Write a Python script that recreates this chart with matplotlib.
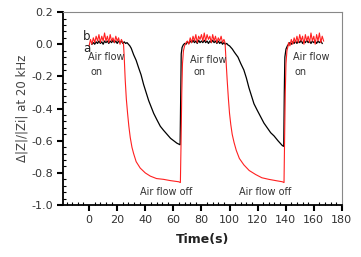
import numpy as np
import matplotlib
matplotlib.use('Agg')
import matplotlib.pyplot as plt
from matplotlib.ticker import MultipleLocator

# curve a (black)
t_a = [2, 3, 4, 5, 6, 7, 8, 9, 10, 11, 12, 13, 14, 15, 16, 17, 18, 19, 20, 21, 22, 23, 24, 25, 26, 27, 28, 29, 30,
       31.7, 33.5, 35.2, 37, 38.8, 40.6, 42.4, 44.2, 46, 48.3, 50.7, 53, 55.5, 58, 60.2, 62.5, 64.8,
       65.3, 65.6, 66.2, 67, 68,
       69, 70, 71, 72, 73, 74, 75, 76, 77, 78, 79, 80, 81, 82, 83, 84, 85, 86, 87, 88, 89, 90, 91, 92, 93, 94,
       95, 96, 97, 98, 99, 100, 101, 102, 103.5, 106,
       108, 110.2, 112, 113.8, 115.6, 117.4, 119.7, 122.1, 124.5, 126.9, 129.3, 131.7, 134.5, 137.6, 138.6,
       139.0, 139.4, 140.2, 141.2, 142,
       143, 144, 145, 146, 147, 148, 149, 150, 151, 152, 153, 154, 155, 156, 157, 158, 159, 160, 161, 162,
       163, 164, 165, 166]
v_a = [0.0, 0.01, 0.0, 0.015, 0.005, 0.02, 0.005, 0.015, 0.0, 0.02, 0.01, 0.02, 0.005, 0.02, 0.01, 0.025, 0.01,
       0.02, 0.005, 0.02, 0.01, 0.02, 0.005, 0.015, 0.005, 0.01, 0.0, -0.01, -0.025,
       -0.065, -0.10, -0.145, -0.19, -0.25, -0.30, -0.35, -0.39, -0.43, -0.47, -0.51, -0.535, -0.56, -0.585,
       -0.60, -0.615, -0.625,
       -0.3, -0.06, -0.02, -0.005, 0.005,
       0.0, 0.015, 0.005, 0.02, 0.01, 0.025, 0.01, 0.02, 0.005, 0.025, 0.01, 0.02, 0.01, 0.025, 0.01, 0.02,
       0.005, 0.02, 0.01, 0.025, 0.01, 0.02, 0.005, 0.02, 0.005, 0.015,
       0.0, 0.01, 0.0, 0.005, -0.005, -0.01, -0.02, -0.03, -0.05, -0.08,
       -0.12, -0.16, -0.21, -0.27, -0.32, -0.37, -0.41, -0.45, -0.49, -0.52, -0.55, -0.57, -0.60, -0.63, -0.635,
       -0.3, -0.08, -0.03, -0.01, 0.0,
       0.01, 0.0, 0.015, 0.005, 0.02, 0.005, 0.02, 0.01, 0.025, 0.005, 0.02, 0.01, 0.025, 0.01, 0.02, 0.005,
       0.02, 0.01, 0.02, 0.005, 0.02, 0.01, 0.02, 0.005]

# curve b (red)
t_b = [0, 1, 2, 3, 4, 5, 6, 7, 8, 9, 10, 11, 12, 13, 14, 15, 16, 17, 18, 19, 20, 21, 22, 23, 24, 24.5,
       25.0, 25.7, 26.5, 27.4, 28.3, 29.3, 30.5, 31.7, 33.5, 36.4, 40, 43.6, 48, 53, 58, 63.8, 65.0,
       65.5, 66.0, 66.5, 67.2, 68, 69,
       70, 71, 72, 73, 74, 75, 76, 77, 78, 79, 80, 81, 82, 83, 84, 85, 86, 87, 88, 89, 90, 91, 92, 93, 94,
       95, 96, 96.8,
       97.5, 98.3, 99.2, 100, 100.9, 101.9, 103.2, 104.8, 107, 110.2, 114, 118.6, 123, 128, 133, 137.6, 138.8,
       139.2, 139.7, 140.2, 140.9, 141.7,
       142, 143, 144, 145, 146, 147, 148, 149, 150, 151, 152, 153, 154, 155, 156, 157, 158, 159, 160, 161,
       162, 163, 164, 165, 166, 167]
v_b = [-0.01, 0.03, 0.0, 0.04, 0.01, 0.05, 0.02, 0.06, 0.01, 0.05, 0.02, 0.07, 0.02, 0.05, 0.01, 0.06, 0.02,
       0.04, 0.01, 0.05, 0.02, 0.04, 0.0, 0.03, 0.01, 0.0,
       -0.08, -0.22, -0.34, -0.43, -0.51, -0.58, -0.64, -0.68, -0.73, -0.77, -0.80, -0.82, -0.835, -0.84,
       -0.848, -0.855, -0.86,
       -0.6, -0.3, -0.12, -0.04, -0.01, 0.01,
       0.02, 0.0, 0.04, 0.01, 0.05, 0.02, 0.06, 0.01, 0.05, 0.03, 0.06, 0.02, 0.07, 0.02, 0.06, 0.03, 0.05,
       0.01, 0.06, 0.02, 0.05, 0.01, 0.04, 0.02, 0.05, 0.01, 0.03, 0.01,
       -0.1, -0.22, -0.34, -0.43, -0.50, -0.56, -0.61, -0.66, -0.71, -0.75, -0.785, -0.81, -0.83, -0.84,
       -0.848, -0.855, -0.86,
       -0.6, -0.3, -0.12, -0.04, -0.01,
       0.01, -0.01, 0.03, 0.0, 0.04, 0.01, 0.05, 0.01, 0.06, 0.02, 0.05, 0.0, 0.06, 0.02, 0.05, 0.01, 0.07,
       0.02, 0.05, 0.0, 0.06, 0.02, 0.07, 0.01, 0.05, 0.02]

fig = plt.figure(figsize=(3.61, 2.57), dpi=100)
ax = fig.add_axes([0.1745, 0.202, 0.7725, 0.751])

ax.plot(t_a, v_a, color='black', lw=0.9)
ax.plot(t_b, v_b, color='#ff2020', lw=0.8)

ax.set_xlim(-18.6, 180)
ax.set_ylim(-1.0, 0.2)
ax.xaxis.set_minor_locator(MultipleLocator(4))
ax.yaxis.set_minor_locator(MultipleLocator(0.04))
ax.set_xticks(np.arange(0, 181, 20))
ax.set_yticks([-1.0, -0.8, -0.6, -0.4, -0.2, 0.0, 0.2])
ax.set_yticklabels(['-1.0', '-0.8', '-0.6', '-0.4', '-0.2', '0.0', '0.2'])

ax.tick_params(which='major', direction='out', length=4, width=1.5, labelsize=8,
               labelcolor='#333333', pad=3)
ax.tick_params(which='minor', direction='in', length=2, width=0.8)

for s in ['left', 'bottom']:
    ax.spines[s].set_linewidth(1.3)
for s in ['top', 'right']:
    ax.spines[s].set_linewidth(0.8)
    ax.spines[s].set_color('#888888')

ax.set_xlabel('Time(s)', fontsize=9, fontweight='bold', color='#222222', labelpad=6)
ax.set_ylabel('Δ|Z|/|Zi| at 20 kHz', fontsize=8.5, color='#444444', labelpad=2)

txt = dict(fontsize=7, color='#333333')
ax.text(-4.5, 0.05, 'b', fontsize=8.5, color='#222222', va='center')
ax.text(-4.5, -0.025, 'a', fontsize=8.5, color='#222222', va='center')
ax.text(-0.7, -0.08, 'Air flow', va='center', **txt)
ax.text(0.7, -0.17, 'on', va='center', **txt)
ax.text(72, -0.1, 'Air flow', va='center', **txt)
ax.text(74, -0.175, 'on', va='center', **txt)
ax.text(145, -0.08, 'Air flow', va='center', **txt)
ax.text(146.6, -0.17, 'on', va='center', **txt)
ax.text(36.4, -0.92, 'Air flow off', va='center', **txt)
ax.text(107, -0.92, 'Air flow off', va='center', **txt)

fig.savefig('out.png', dpi=100)
